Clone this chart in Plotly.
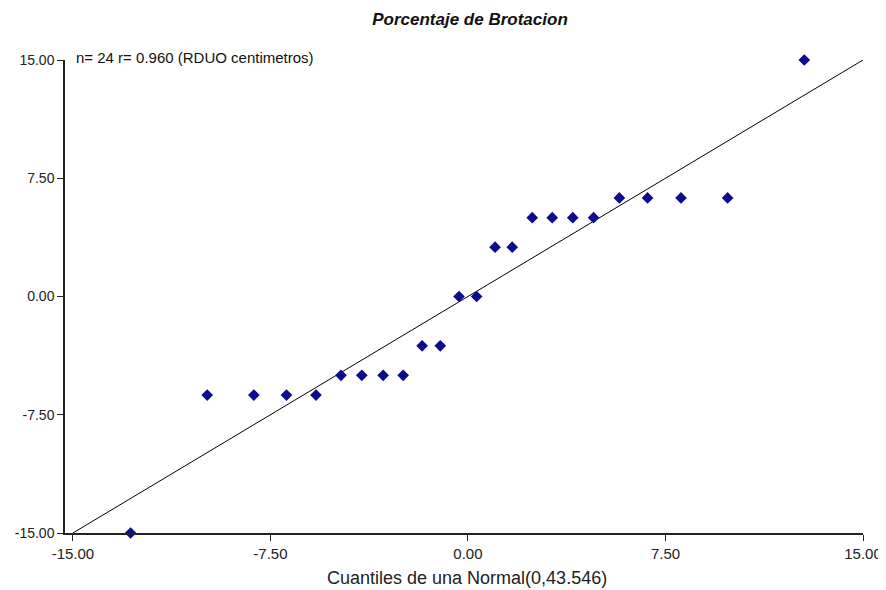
import plotly.graph_objects as go

# Theoretical normal quantiles (x) and observed residuals (y)
quantiles = [-12.81, -9.90, -8.13, -6.89, -5.77, -4.82, -4.03, -3.22, -2.46, -1.74, -1.05, -0.34,
             0.33, 1.03, 1.68, 2.44, 3.20, 3.98, 4.77, 5.75, 6.82, 8.09, 9.86, 12.77]
observed = [-15.0, -6.25, -6.25, -6.25, -6.25, -5.0, -5.0, -5.0, -5.0, -3.13, -3.13, 0.0,
            0.0, 3.13, 3.13, 5.0, 5.0, 5.0, 5.0, 6.25, 6.25, 6.25, 6.25, 15.0]
ref_line = [-15.0, 15.0]
tick_vals = [-15.0, -7.5, 0.0, 7.5, 15.0]
tick_text = ["-15.00", "-7.50", "0.00", "7.50", "15.00"]

title = "Porcentaje de Brotacion"
info = "n= 24 r= 0.960 (RDUO centimetros)"
x_title = "Cuantiles de una Normal(0,43.546)"

fig = go.Figure()
fig.add_trace(go.Scatter(x=ref_line, y=ref_line, mode="lines",
                         line=dict(color="black", width=1), hoverinfo="skip",
                         cliponaxis=False))
fig.add_trace(go.Scatter(x=quantiles, y=observed, mode="markers",
                         marker=dict(symbol="diamond", size=9, color="#0c0c8c"),
                         cliponaxis=False))

# the page body has an 8px margin, so the figure is 8px smaller than the window
W, H = 878, 582
font_family = "Liberation Sans, Arial, sans-serif"
fig.update_layout(
    width=W, height=H,
    margin=dict(l=57, r=23, t=52, b=57, autoexpand=False),
    paper_bgcolor="white", plot_bgcolor="white",
    showlegend=False,
    font=dict(family=font_family, size=14, color="#222222"),
    title=dict(text=title, x=(470 - 8) / W, xanchor="center", y=1 - 11 / H, yanchor="middle",
               font=dict(size=17, family=font_family, color="#111111",
                         weight="bold", style="italic")),
    xaxis=dict(range=[-15.3, 15], tickvals=tick_vals, ticktext=tick_text,
               showgrid=False, zeroline=False, showline=True, linecolor="#222222",
               linewidth=1.5, ticks="outside", ticklen=6, tickcolor="#222222",
               tickfont=dict(size=15), automargin=False),
    yaxis=dict(range=[-15, 15], tickvals=tick_vals, ticktext=tick_text,
               showgrid=False, zeroline=False, showline=True, linecolor="#222222",
               linewidth=1.5, ticks="outside", ticklen=6, tickcolor="#222222",
               tickfont=dict(size=14), automargin=False),
    annotations=[
        dict(text=info, xref="paper", yref="paper", x=0.0113, y=1.0063,
             xanchor="left", yanchor="middle", showarrow=False,
             font=dict(size=15, color="#111111")),
        dict(text=x_title, xref="paper", yref="paper", x=0.504, y=-0.0951,
             xanchor="center", yanchor="middle", showarrow=False,
             font=dict(size=18, color="#222222")),
    ],
)

fig.write_html("out.html")
